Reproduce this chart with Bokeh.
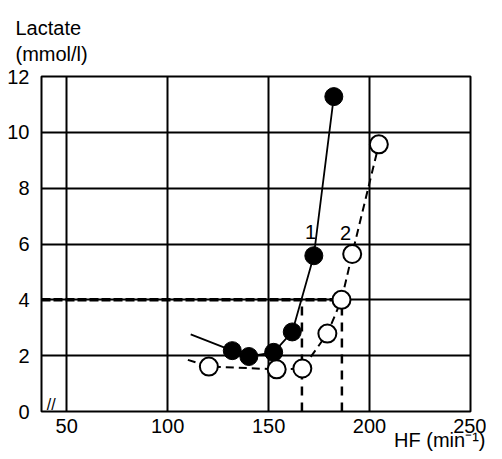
from bokeh.plotting import figure
from bokeh.models import FixedTicker, Label, Range1d, Title
from bokeh.embed import file_html
from bokeh.resources import INLINE

# --- data ---
hf_ticks = [50, 100, 150, 200, 250]
lac_ticks = [0, 2, 4, 6, 8, 10, 12]

# curve 1 (filled circles)
hf_1 = [132.0, 140.2, 152.5, 161.7, 172.4, 182.3]
lac_1 = [2.18, 1.97, 2.12, 2.85, 5.58, 11.28]
hf_1_lead = [111.4]
lac_1_lead = [2.76]

# curve 2 (open circles)
hf_2 = [120.4, 154.0, 166.7, 179.1, 186.1, 191.4, 204.6]
lac_2 = [1.61, 1.51, 1.54, 2.79, 4.0, 5.64, 9.57]
hf_2_lead = [110.0]
lac_2_lead = [1.85]

# 4 mmol/l threshold and the heart rates where each curve reaches it
lac_thr = 4.0
hf_thr = [166.5, 186.3]

x_start, x_end = 37.5, 250
y_start, y_end = 0, 12

FONT = "Liberation Sans"

p = figure(width=486, height=451, output_backend="svg", toolbar_location=None,
           x_range=Range1d(x_start, x_end), y_range=Range1d(y_start, y_end),
           min_border_left=41, min_border_right=16, min_border_top=76,
           min_border_bottom=40, title=None)
p.background_fill_color = "white"
p.border_fill_color = "white"
p.outline_line_color = "black"
p.outline_line_width = 2

# spacer between the frame and the y-axis caption (first added = nearest frame)
p.add_layout(Title(text=" ", text_font=FONT, text_font_size="11px", standoff=0),
             "above")
top_title = Title(text="Lactate\n(mmol/l)", align="left", offset=-26,
                  text_font=FONT, text_font_size="20px", text_font_style="normal",
                  text_color="black", text_line_height=1.2, standoff=-6)
p.add_layout(top_title, "above")
bottom_title = Title(text="HF (min\u207b\u00b9)", align="right", offset=-15,
                     vertical_align="top",
                     text_font=FONT, text_font_size="20px", text_font_style="normal",
                     text_color="black", standoff=-14)
p.add_layout(bottom_title, "below")

for ax in (p.xaxis[0], p.yaxis[0]):
    ax.axis_line_color = None
    ax.major_tick_line_color = None
    ax.minor_tick_line_color = None
    ax.major_label_text_font = FONT
    ax.major_label_text_font_size = "20px"
    ax.major_label_text_color = "black"
p.xaxis[0].ticker = FixedTicker(ticks=hf_ticks)
p.yaxis[0].ticker = FixedTicker(ticks=lac_ticks)
p.xaxis[0].major_label_standoff = 1
p.yaxis[0].major_label_standoff = 6

p.xgrid[0].ticker = FixedTicker(ticks=hf_ticks)
p.ygrid[0].ticker = FixedTicker(ticks=lac_ticks)
for g in (p.xgrid[0], p.ygrid[0]):
    g.grid_line_color = "black"
    g.grid_line_width = 2
    g.grid_line_alpha = 1.0

# threshold lines
p.line([x_start, max(hf_thr)], [lac_thr, lac_thr], line_color="black",
       line_width=3.5, line_dash="9 3")
for h in hf_thr:
    p.line([h, h], [y_start, lac_thr], line_color="black", line_width=2.5,
           line_dash="9 7")

# curve 2
p.line(hf_2_lead + hf_2, lac_2_lead + lac_2, line_color="black",
       line_width=2, line_dash="8 5")
# curve 1
p.line(hf_1_lead + hf_1, lac_1_lead + lac_1, line_color="black", line_width=1.8)

p.scatter(hf_1, lac_1, size=18, fill_color="black", line_color="black")
p.scatter(hf_2, lac_2, size=18, fill_color="white", line_color="black",
          line_width=2)

def lab(x, y, t, size="20px", align="left", base="alphabetic"):
    p.add_layout(Label(x=x, y=y, text=t, text_font=FONT, text_font_size=size,
                       text_align=align, text_baseline=base, text_color="black"))

lab(170.8, 6.44, "1", align="center", base="middle")
lab(188.1, 6.39, "2", align="center", base="middle")
lab(42.3, 0.25, "//", size="16px", align="center", base="middle")

open("out.html", "w").write(file_html(p, INLINE))
